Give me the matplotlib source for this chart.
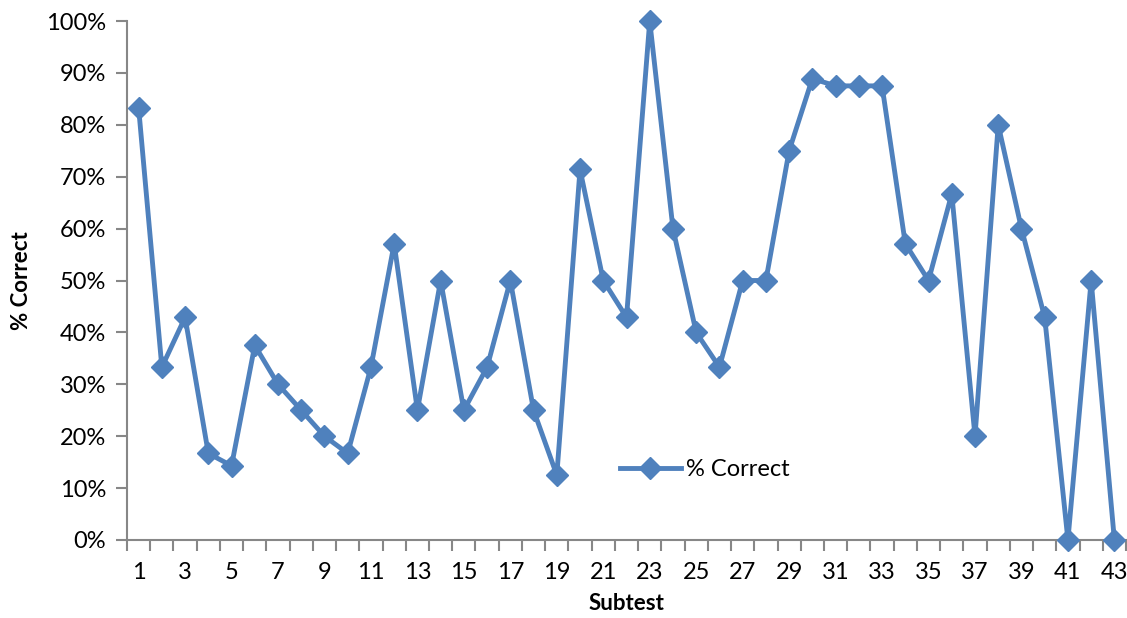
import matplotlib as mpl
mpl.use('Agg')
import matplotlib.pyplot as plt
from matplotlib.ticker import FixedLocator, FuncFormatter, NullFormatter

# values (percent correct per subtest)
subtests = list(range(1, 44))
pct_correct = [83.3, 33.3, 42.9, 16.7, 14.3, 37.5, 30.0, 25.0, 20.0, 16.7,
               33.3, 57.1, 25.0, 50.0, 25.0, 33.3, 50.0, 25.0, 12.5, 71.4,
               50.0, 42.9, 100.0, 60.0, 40.0, 33.3, 50.0, 50.0, 75.0, 88.9,
               87.5, 87.5, 87.5, 57.1, 50.0, 66.7, 20.0, 80.0, 60.0, 42.9,
               0.0, 50.0, 0.0]
series_name = '% Correct'

plt.rcParams['font.family'] = ['Lato', 'DejaVu Sans']

fig = plt.figure(figsize=(11.27, 6.18), dpi=100)
ax = fig.add_axes([127 / 1127, 1 - 540 / 618, 999 / 1127, 519 / 618])

blue = '#4F81BD'
ax.plot(subtests, pct_correct, color=blue, lw=3.5, marker='D', ms=11,
        mec=blue, mfc=blue, label=series_name, clip_on=False, zorder=3)

ax.set_xlim(0.5, 43.5)
ax.set_ylim(0, 100)

# y axis
ax.set_yticks(range(0, 101, 10))
ax.yaxis.set_major_formatter(FuncFormatter(lambda v, p: '%d%%' % v))
# x axis: ticks between categories, labels on every other category
ax.xaxis.set_major_locator(FixedLocator([i + 0.5 for i in range(0, 44)]))
ax.xaxis.set_major_formatter(NullFormatter())
ax.xaxis.set_minor_locator(FixedLocator(subtests[::2]))
ax.xaxis.set_minor_formatter(FuncFormatter(lambda v, p: '%d' % v))
ax.tick_params(axis='x', which='minor', length=0, pad=16, labelsize=17)
ax.tick_params(axis='x', which='major', length=8, width=1.5, color='#878787', direction='out')
ax.tick_params(axis='y', length=8, width=1.5, color='#878787', direction='out', labelsize=17, pad=7)

for s in ['top', 'right']:
    ax.spines[s].set_visible(False)
for s in ['left', 'bottom']:
    ax.spines[s].set_color('#878787')
    ax.spines[s].set_linewidth(1.5)

ax.set_xlabel('Subtest', fontsize=16, fontweight='bold', labelpad=7)
ax.set_ylabel('% Correct', fontsize=16, fontweight='bold', labelpad=10)

ax.legend(loc='center', bbox_to_anchor=(0.578, 0.135), frameon=False,
          fontsize=17, handlelength=2.6, handletextpad=0.2)

fig.savefig('out.png', dpi=100)
